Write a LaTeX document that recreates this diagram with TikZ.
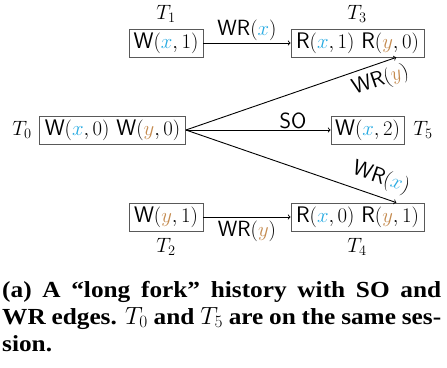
\documentclass[tikz,border=0pt]{standalone}
\usepackage{fontspec}
\newfontfamily\capfont[FakeStretch=1.1]{Liberation Serif}
\usetikzlibrary{calc}
\definecolor{xcol}{RGB}{41,171,226}
\definecolor{ycol}{RGB}{196,138,78}
\newcommand{\vx}{{\color{xcol}x}}
\newcommand{\vy}{{\color{ycol}y}}
\newcommand{\opW}{\mathsf{W}}
\newcommand{\opR}{\mathsf{R}}
\tikzset{
  txbox/.style={draw=black!65, line width=0.8pt, minimum height=28pt, inner sep=0pt, font=\fontsize{22.5}{26}\selectfont},
  tlabel/.style={inner sep=0pt, font=\fontsize{22}{26}\selectfont},
  edge/.style={->, line width=0.9pt},
  elabel/.style={inner sep=2pt, font=\fontsize{22}{26}\selectfont},
  caption/.style={anchor=base west, inner sep=0pt, font=\capfont\bfseries\fontsize{23}{27}\selectfont}
}
\begin{document}
\begin{tikzpicture}[x=1pt,y=-1pt]
\useasboundingbox (0,0) rectangle (447,367);
% boxes
\node[txbox, minimum width=74pt] (t1) at (166,43) {$\opW(\vx,1)$};
\node[txbox, minimum width=133pt] (t3) at (357.5,43) {$\opR(\vx,1)$ $\opR(\vy,0)$};
\node[txbox, minimum width=146pt] (t0) at (112.5,130) {$\opW(\vx,0)$ $\opW(\vy,0)$};
\node[txbox, minimum width=73pt] (t5) at (367.5,130) {$\opW(\vx,2)$};
\node[txbox, minimum width=74pt] (t2) at (166,217) {$\opW(\vy,1)$};
\node[txbox, minimum width=133pt] (t4) at (357.5,217) {$\opR(\vx,0)$ $\opR(\vy,1)$};
% transaction labels
\node[tlabel] (l1) at (166,14) {$T_1$};
\node[tlabel] (l3) at (357,14) {$T_3$};
\node[tlabel] (l0) at (22,130) {$T_0$};
\node[tlabel] (l5) at (423,130) {$T_5$};
\node[tlabel] (l2) at (166,247) {$T_2$};
\node[tlabel] (l4) at (357,247) {$T_4$};
% target points on boxes
\coordinate (t3in) at ($(t3.south west)!0.79!(t3.south east)$);
\coordinate (t4in) at ($(t4.north west)!0.79!(t4.north east)$);
% edges
\draw[edge] (t1) -- node[elabel, above=0pt] {$\mathsf{WR}(\vx)$} (t3);
\draw[edge] (t2) -- node[elabel, below=2pt] {$\mathsf{WR}(\vy)$} (t4);
\draw[edge] (t0) -- node[elabel, above=-1pt, pos=0.74] {$\mathsf{SO}$} (t5);
\draw[edge] (t0.east) -- node[elabel, sloped, below=4pt, pos=0.9] {$\mathsf{WR}(\vy)$} (t3in);
\draw[edge] (t0.east) -- node[elabel, sloped, above=5pt, pos=0.9] {$\mathsf{WR}(\vx)$} (t4in);
% caption
\node[caption] (c1) at (2,297) {\makebox[439pt][s]{(a) A “long fork” history with SO and}};
\node[caption] (c2) at (2,324) {\makebox[439pt][s]{WR edges. $T_0$ and $T_5$ are on the same ses-}};
\node[caption] (c3) at (2,351) {sion.};
\end{tikzpicture}
\end{document}
